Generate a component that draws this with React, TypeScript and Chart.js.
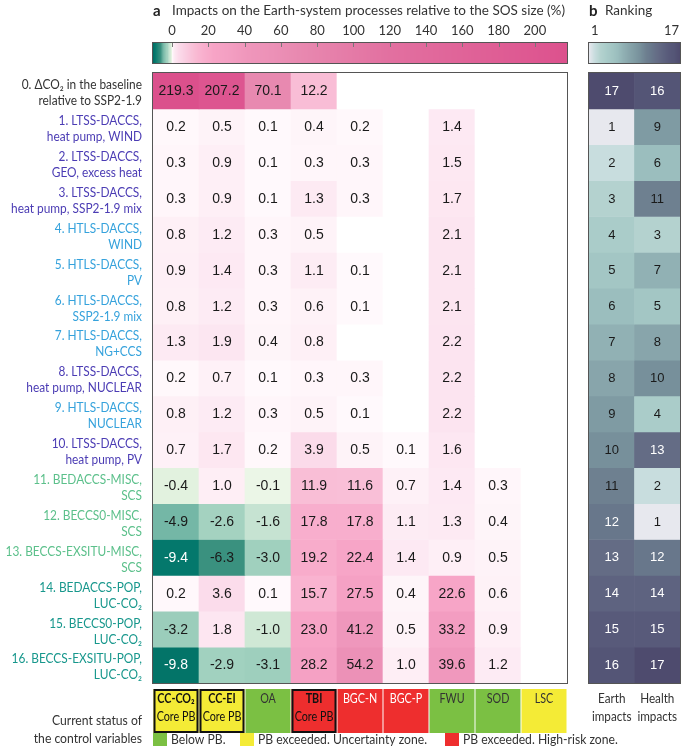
import React, { useEffect, useRef } from "react";
import { Chart, registerables } from "chart.js";
Chart.register(...registerables);

// ---------- DATA ----------
const columns = ["CC-CO₂", "CC-EI", "OA", "TBI", "BGC-N", "BGC-P", "FWU", "SOD", "LSC"];
const columnStatus = ["yellow", "yellow", "green", "red", "red", "red", "green", "green", "yellow"];
const coreColumns = [true, true, false, true, false, false, false, false, false];

const rowLabels: string[][] = [
  ["0. ΔCO₂ in the baseline", "relative to SSP2-1.9"],
  ["1. LTSS-DACCS,", "heat pump, WIND"],
  ["2. LTSS-DACCS,", "GEO, excess heat"],
  ["3. LTSS-DACCS,", "heat pump, SSP2-1.9 mix"],
  ["4. HTLS-DACCS,", "WIND"],
  ["5. HTLS-DACCS,", "PV"],
  ["6. HTLS-DACCS,", "SSP2-1.9 mix"],
  ["7. HTLS-DACCS,", "NG+CCS"],
  ["8. LTSS-DACCS,", "heat pump, NUCLEAR"],
  ["9. HTLS-DACCS,", "NUCLEAR"],
  ["10. LTSS-DACCS,", "heat pump, PV"],
  ["11. BEDACCS-MISC,", "SCS"],
  ["12. BECCS0-MISC,", "SCS"],
  ["13. BECCS-EXSITU-MISC,", "SCS"],
  ["14. BEDACCS-POP,", "LUC-CO₂"],
  ["15. BECCS0-POP,", "LUC-CO₂"],
  ["16. BECCS-EXSITU-POP,", "LUC-CO₂"],
];
const rowGroups = ["base", "ltss", "ltss", "ltss", "htls", "htls", "htls", "htls", "ltss", "htls", "ltss", "misc", "misc", "misc", "pop", "pop", "pop"];

const row0 = [219.3, 207.2, 70.1, 12.2, null, null, null, null, null];
const row1 = [0.2, 0.5, 0.1, 0.4, 0.2, null, 1.4, null, null];
const row2 = [0.3, 0.9, 0.1, 0.3, 0.3, null, 1.5, null, null];
const row3 = [0.3, 0.9, 0.1, 1.3, 0.3, null, 1.7, null, null];
const row4 = [0.8, 1.2, 0.3, 0.5, null, null, 2.1, null, null];
const row5 = [0.9, 1.4, 0.3, 1.1, 0.1, null, 2.1, null, null];
const row6 = [0.8, 1.2, 0.3, 0.6, 0.1, null, 2.1, null, null];
const row7 = [1.3, 1.9, 0.4, 0.8, null, null, 2.2, null, null];
const row8 = [0.2, 0.7, 0.1, 0.3, 0.3, null, 2.2, null, null];
const row9 = [0.8, 1.2, 0.3, 0.5, 0.1, null, 2.2, null, null];
const row10 = [0.7, 1.7, 0.2, 3.9, 0.5, 0.1, 1.6, null, null];
const row11 = [-0.4, 1.0, -0.1, 11.9, 11.6, 0.7, 1.4, 0.3, null];
const row12 = [-4.9, -2.6, -1.6, 17.8, 17.8, 1.1, 1.3, 0.4, null];
const row13 = [-9.4, -6.3, -3.0, 19.2, 22.4, 1.4, 0.9, 0.5, null];
const row14 = [0.2, 3.6, 0.1, 15.7, 27.5, 0.4, 22.6, 0.6, null];
const row15 = [-3.2, 1.8, -1.0, 23.0, 41.2, 0.5, 33.2, 0.9, null];
const row16 = [-9.8, -2.9, -3.1, 28.2, 54.2, 1.0, 39.6, 1.2, null];
const values: (number | null)[][] = [row0, row1, row2, row3, row4, row5, row6, row7, row8, row9, row10, row11, row12, row13, row14, row15, row16];

const rankColumns = ["Earth impacts", "Health impacts"];
const earthRank = [17, 1, 2, 3, 4, 5, 6, 7, 8, 9, 10, 11, 12, 13, 14, 15, 16];
const healthRank = [16, 9, 6, 11, 3, 7, 5, 8, 10, 4, 13, 2, 1, 12, 14, 15, 17];

const colorbarTicks = [0, 20, 40, 60, 80, 100, 120, 140, 160, 180, 200];
const colorbarRange = [-10.5, 217.7];
const rankRange = [1, 17];

// ---------- STYLES ----------
const heatStops: [number, number[]][] = [
  [-10.5, [0, 108, 98]],
  [-9.4, [4, 120, 108]],
  [-6.3, [58, 145, 127]],
  [-4.9, [116, 183, 166]],
  [-3.0, [160, 208, 190]],
  [-2.5, [165, 211, 193]],
  [-1.6, [198, 227, 210]],
  [-1.0, [207, 232, 213]],
  [-0.4, [226, 242, 223]],
  [-0.05, [236, 247, 232]],
  [0, [255, 255, 255]],
  [0.1, [255, 249, 252]],
  [0.5, [254, 243, 248]],
  [1.5, [253, 232, 242]],
  [2.2, [252, 228, 240]],
  [4, [251, 218, 234]],
  [12, [249, 190, 214]],
  [16, [249, 178, 207]],
  [23, [247, 164, 198]],
  [30, [244, 160, 195]],
  [42, [239, 150, 187]],
  [55, [236, 145, 183]],
  [70, [232, 137, 176]],
  [120, [226, 112, 160]],
  [210, [221, 84, 143]],
  [220, [219, 80, 140]],
];
const rankStops: [number, number[]][] = [
  [1, [231, 232, 238]],
  [2, [200, 221, 222]],
  [3, [180, 210, 207]],
  [4, [170, 204, 201]],
  [5, [163, 198, 196]],
  [6, [155, 190, 190]],
  [7, [145, 177, 180]],
  [8, [136, 165, 171]],
  [9, [127, 155, 163]],
  [10, [119, 144, 155]],
  [11, [110, 128, 144]],
  [12, [104, 119, 139]],
  [13, [100, 108, 133]],
  [14, [94, 99, 128]],
  [15, [88, 90, 122]],
  [16, [84, 85, 118]],
  [17, [78, 75, 110]],
];
const groupColors: Record<string, string> = {
  base: "#333333",
  ltss: "#4b3cb4",
  htls: "#35a2dc",
  misc: "#5cc08b",
  pop: "#17978c",
};
const statusColors: Record<string, string> = {
  yellow: "#f4eb36",
  green: "#7bc043",
  red: "#ee2e2e",
};
const LABEL_FONT = "Lato, 'Open Sans', sans-serif";
const NUM_FONT = "'Liberation Sans', Arial, sans-serif";

function interp(stops: [number, number[]][], v: number): string {
  let c = stops[stops.length - 1][1];
  if (v <= stops[0][0]) c = stops[0][1];
  else {
    for (let i = 1; i < stops.length; i++) {
      if (v <= stops[i][0]) {
        const [a, ca] = stops[i - 1];
        const [b, cb] = stops[i];
        const t = (v - a) / (b - a);
        c = ca.map((x, k) => Math.round(x + (cb[k] - x) * t));
        break;
      }
    }
  }
  return `rgb(${c[0]},${c[1]},${c[2]})`;
}
const heatColor = (v: number | null) => (v == null ? "#ffffff" : interp(heatStops, v));
const rankColor = (v: number) => interp(rankStops, v);

// text with horizontal condensing (to mimic a narrow font)
function txt(ctx: CanvasRenderingContext2D, s: string, x: number, y: number, align: CanvasTextAlign, sx = 1) {
  ctx.save();
  ctx.translate(x, y);
  ctx.scale(sx, 1);
  ctx.textAlign = align;
  ctx.fillText(s, 0, 0);
  ctx.restore();
}

const W = 685;
const H = 746;

const mainPlugin = {
  id: "mainDecor",
  afterDraw(chart: any) {
    const ctx: CanvasRenderingContext2D = chart.ctx;
    const area = chart.chartArea;
    const xs = chart.scales.x;
    const ys = chart.scales.y;
    ctx.save();
    ctx.textBaseline = "middle";
    // cell values
    ctx.font = `14px ${NUM_FONT}`;
    chart.data.datasets.forEach((ds: any, r: number) => {
      const meta = chart.getDatasetMeta(r);
      meta.data.forEach((el: any, c: number) => {
        const v = values[r][c];
        if (v == null) return;
        ctx.fillStyle = v <= -7 ? "#ffffff" : "#1a1a1a";
        txt(ctx, v.toFixed(1), el.x, (el.y + el.base) / 2 + 0.5, "center");
      });
    });
    // border
    ctx.strokeStyle = "#555555";
    ctx.lineWidth = 1;
    ctx.strokeRect(area.left - 0.5, area.top - 0.5, area.right - area.left + 1, area.bottom - area.top + 1);

    // row labels
    ctx.font = `13.5px ${LABEL_FONT}`;
    rowLabels.forEach((lines, r) => {
      const cy = ys.getPixelForValue(r + 0.5);
      ctx.fillStyle = groupColors[rowGroups[r]];
      txt(ctx, lines[0], area.left - 11, cy - 6, "right", 0.88);
      txt(ctx, lines[1], area.left - 11, cy + 10, "right", 0.88);
    });

    // title
    ctx.fillStyle = "#222222";
    ctx.font = `bold 15px ${LABEL_FONT}`;
    txt(ctx, "a", area.left, 11, "left");
    ctx.font = `13.5px ${LABEL_FONT}`;
    ctx.fillStyle = "#333333";
    txt(ctx, "Impacts on the Earth-system processes relative to the SOS size (%)", area.left + 19, 11, "left");

    // colorbar
    const cbTop = 43, cbBot = 63;
    const [cmin, cmax] = colorbarRange;
    const cw = area.right - area.left;
    for (let px = 0; px < cw; px++) {
      const v = cmin + ((px + 0.5) / cw) * (cmax - cmin);
      ctx.fillStyle = heatColor(v);
      ctx.fillRect(area.left + px, cbTop, 1.2, cbBot - cbTop);
    }
    ctx.strokeStyle = "#555555";
    ctx.strokeRect(area.left - 0.5, cbTop - 0.5, cw + 1, cbBot - cbTop + 1);
    ctx.font = `13px ${LABEL_FONT}`;
    ctx.fillStyle = "#333333";
    colorbarTicks.forEach((t) => {
      const x = area.left + ((t - cmin) / (cmax - cmin)) * cw;
      txt(ctx, String(t), x, 31, "center");
      ctx.strokeStyle = "#777777";
      ctx.beginPath();
      ctx.moveTo(Math.round(x) + 0.5, cbTop);
      ctx.lineTo(Math.round(x) + 0.5, cbTop + 4);
      ctx.stroke();
    });

    // bottom status boxes
    const bTop = 689, bBot = 733;
    const half = (xs.getPixelForValue(1) - xs.getPixelForValue(0)) / 2;
    columns.forEach((name, c) => {
      const cx = xs.getPixelForValue(c);
      const x0 = cx - half + 0.5, x1 = cx + half - 0.5;
      ctx.fillStyle = statusColors[columnStatus[c]];
      ctx.fillRect(x0, bTop, x1 - x0, bBot - bTop);
      if (coreColumns[c]) {
        ctx.strokeStyle = "#111111";
        ctx.lineWidth = 2;
        ctx.strokeRect(x0 + 1, bTop + 1, x1 - x0 - 2, bBot - bTop - 2);
        ctx.lineWidth = 1;
        ctx.fillStyle = "#111111";
        ctx.font = `bold 12.5px ${LABEL_FONT}`;
        txt(ctx, name, cx, 699, "center", 0.86);
        ctx.font = `12.5px ${LABEL_FONT}`;
        txt(ctx, "Core PB", cx, 717, "center", 0.86);
      } else {
        ctx.fillStyle = columnStatus[c] === "red" ? "#ffffff" : "#333333";
        ctx.font = `12.5px ${LABEL_FONT}`;
        txt(ctx, name, cx, 699, "center", 0.86);
      }
    });

    // status caption
    ctx.fillStyle = "#333333";
    ctx.font = `13.5px ${LABEL_FONT}`;
    txt(ctx, "Current status of", area.left - 11, 721, "right", 0.9);
    txt(ctx, "the control variables", area.left - 11, 739, "right", 0.9);

    // legend
    const legend: [string, string, number][] = [
      ["green", "Below PB.", area.left],
      ["yellow", "PB exceeded. Uncertainty zone.", 240],
      ["red", "PB exceeded. High-risk zone.", 445],
    ];
    legend.forEach(([k, label, x]) => {
      ctx.fillStyle = statusColors[k];
      ctx.fillRect(x, 733, 14, 13);
      ctx.fillStyle = "#333333";
      txt(ctx, label, x + 18, 740, "left", 0.9);
    });
    ctx.restore();
  },
};

const rankPlugin = {
  id: "rankDecor",
  afterDraw(chart: any) {
    const ctx: CanvasRenderingContext2D = chart.ctx;
    const area = chart.chartArea;
    const xs = chart.scales.x;
    ctx.save();
    ctx.textBaseline = "middle";
    ctx.font = `13px ${NUM_FONT}`;
    chart.data.datasets.forEach((ds: any, r: number) => {
      const meta = chart.getDatasetMeta(r);
      meta.data.forEach((el: any, c: number) => {
        const v = c === 0 ? earthRank[r] : healthRank[r];
        ctx.fillStyle = v >= 12 ? "#ffffff" : "#1a1a1a";
        txt(ctx, String(v), el.x, (el.y + el.base) / 2 + 0.5, "center");
      });
    });
    ctx.strokeStyle = "#555555";
    ctx.lineWidth = 1;
    ctx.strokeRect(area.left - 0.5, area.top - 0.5, area.right - area.left + 1, area.bottom - area.top + 1);

    // title
    ctx.fillStyle = "#222222";
    ctx.font = `bold 15px ${LABEL_FONT}`;
    txt(ctx, "b", area.left, 11, "left");
    ctx.font = `13.5px ${LABEL_FONT}`;
    ctx.fillStyle = "#333333";
    txt(ctx, "Ranking", area.left + 16, 11, "left");

    // colorbar
    const cbTop = 43, cbBot = 63;
    const cw = area.right - area.left;
    const [rmin, rmax] = rankRange;
    for (let px = 0; px < cw; px++) {
      const v = rmin + ((px + 0.5) / cw) * (rmax - rmin);
      ctx.fillStyle = rankColor(v);
      ctx.fillRect(area.left + px, cbTop, 1.2, cbBot - cbTop);
    }
    ctx.strokeStyle = "#555555";
    ctx.strokeRect(area.left - 0.5, cbTop - 0.5, cw + 1, cbBot - cbTop + 1);
    ctx.font = `13px ${LABEL_FONT}`;
    ctx.fillStyle = "#333333";
    txt(ctx, String(rmin), area.left + 2, 31, "left");
    txt(ctx, String(rmax), area.right - 1, 31, "right");

    // column labels below
    ctx.font = `13px ${LABEL_FONT}`;
    rankColumns.forEach((name, c) => {
      const cx = xs.getPixelForValue(c);
      const parts = name.split(" ");
      txt(ctx, parts[0], cx, 699, "center", 0.9);
      txt(ctx, parts[1], cx, 717, "center", 0.9);
    });
    ctx.restore();
  },
};

export default function App() {
  const mainRef = useRef<HTMLCanvasElement | null>(null);
  const rankRef = useRef<HTMLCanvasElement | null>(null);

  useEffect(() => {
    document.body.style.margin = "0";
    const main = new Chart(mainRef.current as HTMLCanvasElement, {
      type: "bar",
      data: {
        labels: columns,
        datasets: values.map((row, r) => ({
          label: rowLabels[r].join(" "),
          data: row.map(() => 1),
          backgroundColor: row.map((v) => heatColor(v)),
          borderWidth: 0,
          barPercentage: 1,
          categoryPercentage: 1,
        })),
      },
      options: {
        responsive: false,
        animation: false,
        events: [],
        layout: { padding: { left: 153, right: W - 567, top: 73, bottom: H - 683 } },
        plugins: { legend: { display: false }, tooltip: { enabled: false } },
        scales: {
          x: { display: false, stacked: true },
          y: { display: false, stacked: true, min: 0, max: values.length, reverse: true },
        },
      },
      plugins: [mainPlugin],
    } as any);

    const rank = new Chart(rankRef.current as HTMLCanvasElement, {
      type: "bar",
      data: {
        labels: rankColumns,
        datasets: earthRank.map((e, r) => ({
          label: rowLabels[r].join(" "),
          data: [1, 1],
          backgroundColor: [rankColor(e), rankColor(healthRank[r])],
          borderWidth: 0,
          barPercentage: 1,
          categoryPercentage: 1,
        })),
      },
      options: {
        responsive: false,
        animation: false,
        events: [],
        layout: { padding: { left: 589, right: W - 680, top: 73, bottom: H - 683 } },
        plugins: { legend: { display: false }, tooltip: { enabled: false } },
        scales: {
          x: { display: false, stacked: true },
          y: { display: false, stacked: true, min: 0, max: earthRank.length, reverse: true },
        },
      },
      plugins: [rankPlugin],
    } as any);

    return () => {
      main.destroy();
      rank.destroy();
    };
  }, []);

  return (
    <div style={{ position: "relative", width: W, height: H, background: "#ffffff" }}>
      <canvas ref={mainRef} width={W} height={H} style={{ position: "absolute", left: 0, top: 0 }} />
      <canvas ref={rankRef} width={W} height={H} style={{ position: "absolute", left: 0, top: 0 }} />
    </div>
  );
}
